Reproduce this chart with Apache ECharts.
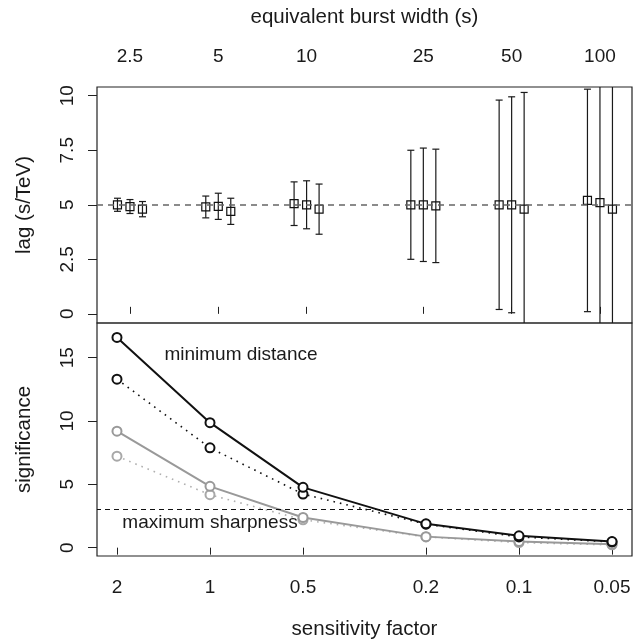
<!DOCTYPE html>
<html><head><meta charset="utf-8">
<script src="https://cdn.jsdelivr.net/npm/echarts@6/dist/echarts.min.js"></script>
<style>html,body{margin:0;padding:0;background:#fff}#c{width:641px;height:642px}</style>
</head><body><div id="c"></div>
<script>
// ---- data ----
const burstWidths = [2.5, 5, 10, 25, 50, 100];
const sensitivity = [2, 1, 0.5, 0.2, 0.1, 0.05];
const lagA = [5.0, 4.9, 5.05, 5.0, 5.0, 5.2];
const errA = [0.3, 0.5, 1.0, 2.5, 4.8, 5.1];
const lagB = [4.92, 4.93, 5.0, 5.0, 5.0, 5.1];
const errB = [0.32, 0.6, 1.1, 2.6, 4.95, 6.5];
const lagC = [4.8, 4.7, 4.8, 4.95, 4.8, 4.8];
const errC = [0.35, 0.6, 1.15, 2.6, 5.35, 7.0];
const lagRef = 5;
const lagTicks = [0, 2.5, 5, 7.5, 10];
const sigTicks = [0, 5, 10, 15];
const sigMinDist = [16.6, 9.87, 4.76, 1.88, 0.93, 0.48];
const sigMinDistAlt = [13.3, 7.88, 4.23, 1.85, 0.85, 0.45];
const sigMaxSharp = [9.2, 4.84, 2.38, 0.87, 0.48, 0.26];
const sigMaxSharpAlt = [7.22, 4.18, 2.2, 0.85, 0.4, 0.22];
const sigThreshold = 3;

const FONT = 'Liberation Sans, Arial, Helvetica, sans-serif';
const TXT = '#1a1a1a';

function nearestLabel(list) {
  return function (v) {
    let best = list[0];
    list.forEach(function (c) { if (Math.abs(Math.log(c) - Math.log(v)) < Math.abs(Math.log(best) - Math.log(v))) best = c; });
    return String(best);
  };
}

function errRender(offset) {
  return function (params, api) {
    const x = api.value(0), y = api.value(1), e = api.value(2);
    const c = api.coord([x, y]);
    const top = api.coord([x, y + e])[1];
    const bot = api.coord([x, y - e])[1];
    const cs = params.coordSys;
    const px = c[0] + offset;
    const yMin = cs.y, yMax = cs.y + cs.height;
    const t = Math.max(top, yMin), b = Math.min(bot, yMax);
    const ls = { stroke: '#1a1a1a', lineWidth: 1.2 };
    const ch = [{ type: 'line', shape: { x1: px, y1: t, x2: px, y2: b }, style: ls }];
    if (top >= yMin) ch.push({ type: 'line', shape: { x1: px - 3.5, y1: top, x2: px + 3.5, y2: top }, style: ls });
    if (bot <= yMax) ch.push({ type: 'line', shape: { x1: px - 3.5, y1: bot, x2: px + 3.5, y2: bot }, style: ls });
    ch.push({ type: 'rect', shape: { x: px - 4, y: c[1] - 4, width: 8, height: 8 }, style: { fill: 'none', stroke: '#111', lineWidth: 1.2 } });
    return { type: 'group', children: ch };
  };
}

function pack(xs, ys, es) { return xs.map(function (x, i) { return es ? [x, ys[i], es[i]] : [x, ys[i]]; }); }

const chart = echarts.init(document.getElementById('c'), null, { renderer: 'canvas' });
const axisLabelBase = { color: TXT, fontSize: 19, fontFamily: FONT };
const nameStyle = { color: TXT, fontSize: 20.5, fontFamily: FONT };

chart.setOption({
  animation: false,
  backgroundColor: '#fff',
  textStyle: { fontFamily: FONT },
  grid: [
    { left: 97, right: 9, top: 87, height: 236, show: true, borderColor: '#222', borderWidth: 1.2, backgroundColor: 'transparent' },
    { left: 97, right: 9, top: 323, height: 233, show: true, borderColor: '#222', borderWidth: 1.2, backgroundColor: 'transparent' }
  ],
  xAxis: [
    {
      gridIndex: 0, type: 'log', logBase: 10, position: 'top', min: 1.930, max: 128.6,
      name: 'equivalent burst width (s)', nameLocation: 'middle', nameGap: 59,
      nameTextStyle: nameStyle,
      axisLine: { show: false },
      axisTick: { show: true, inside: false, length: 7, customValues: burstWidths, lineStyle: { color: '#222' } },
      axisLabel: Object.assign({}, axisLabelBase, { margin: 21, customValues: burstWidths, formatter: nearestLabel(burstWidths) }),
      splitLine: { show: false }, minorTick: { show: false }
    },
    {
      gridIndex: 1, type: 'log', logBase: 10, position: 'bottom', inverse: true, min: 0.04308, max: 2.321,
      name: 'sensitivity factor', nameLocation: 'middle', nameGap: 63,
      nameTextStyle: nameStyle,
      axisLine: { show: false },
      axisTick: { show: true, inside: false, length: 7, customValues: sensitivity, lineStyle: { color: '#222' } },
      axisLabel: Object.assign({}, axisLabelBase, { margin: 22, customValues: sensitivity, formatter: nearestLabel(sensitivity) }),
      splitLine: { show: false }, minorTick: { show: false }
    }
  ],
  yAxis: [
    {
      gridIndex: 0, type: 'value', min: -0.42, max: 10.4,
      name: 'lag (s/TeV)', nameLocation: 'middle', nameGap: 62,
      nameTextStyle: nameStyle,
      axisLine: { show: false },
      axisTick: { show: true, inside: false, length: 9, customValues: lagTicks, lineStyle: { color: '#222' } },
      axisLabel: Object.assign({}, axisLabelBase, { rotate: 90, margin: 20, customValues: lagTicks }),
      splitLine: { show: false }
    },
    {
      gridIndex: 1, type: 'value', min: -0.66, max: 17.74,
      name: 'significance', nameLocation: 'middle', nameGap: 62,
      nameTextStyle: nameStyle,
      axisLine: { show: false },
      axisTick: { show: true, inside: false, length: 9, customValues: sigTicks, lineStyle: { color: '#222' } },
      axisLabel: Object.assign({}, axisLabelBase, { rotate: 90, margin: 20, customValues: sigTicks }),
      splitLine: { show: false }
    }
  ],
  series: [
    {
      type: 'line', xAxisIndex: 0, yAxisIndex: 0, data: [], silent: true,
      markLine: { silent: true, symbol: 'none', label: { show: false },
        lineStyle: { color: '#666', type: [6, 5], width: 1.5 }, data: [{ yAxis: lagRef }] }
    },
    { type: 'custom', xAxisIndex: 0, yAxisIndex: 0, renderItem: errRender(-12.5), data: pack(burstWidths, lagA, errA) },
    { type: 'custom', xAxisIndex: 0, yAxisIndex: 0, renderItem: errRender(0), data: pack(burstWidths, lagB, errB) },
    { type: 'custom', xAxisIndex: 0, yAxisIndex: 0, renderItem: errRender(12.5), data: pack(burstWidths, lagC, errC) },
    {
      type: 'line', xAxisIndex: 1, yAxisIndex: 1, data: [], silent: true,
      markLine: { silent: true, symbol: 'none', label: { show: false },
        lineStyle: { color: '#111', type: [5, 4], width: 1.1 }, data: [{ yAxis: sigThreshold }] }
    },
    {
      type: 'line', xAxisIndex: 1, yAxisIndex: 1, data: pack(sensitivity, sigMaxSharpAlt), z: 2,
      lineStyle: { color: '#b0b0b0', width: 1.6, type: [1.6, 5] },
      symbol: 'emptyCircle', symbolSize: 9, itemStyle: { color: '#a8a8a8', borderWidth: 1.1 }
    },
    {
      type: 'line', xAxisIndex: 1, yAxisIndex: 1, data: pack(sensitivity, sigMaxSharp), z: 3,
      lineStyle: { color: '#999', width: 2 },
      symbol: 'emptyCircle', symbolSize: 9, itemStyle: { color: '#999', borderWidth: 1.3 }
    },
    {
      type: 'line', xAxisIndex: 1, yAxisIndex: 1, data: pack(sensitivity, sigMinDistAlt), z: 4,
      lineStyle: { color: '#111', width: 1.6, type: [1.6, 5] },
      symbol: 'emptyCircle', symbolSize: 9, itemStyle: { color: '#111', borderWidth: 1.1 }
    },
    {
      type: 'line', xAxisIndex: 1, yAxisIndex: 1, data: pack(sensitivity, sigMinDist), z: 5,
      lineStyle: { color: '#111', width: 2 },
      symbol: 'emptyCircle', symbolSize: 9, itemStyle: { color: '#111', borderWidth: 2 }
    }
  ],
  graphic: [
    { type: 'text', x: 241, y: 355, style: { text: 'minimum distance', font: '19px ' + FONT, fill: TXT, align: 'center', verticalAlign: 'middle' } },
    { type: 'text', x: 210, y: 523, style: { text: 'maximum sharpness', font: '19px ' + FONT, fill: TXT, align: 'center', verticalAlign: 'middle' } }
  ]
});
</script>
</body></html>
